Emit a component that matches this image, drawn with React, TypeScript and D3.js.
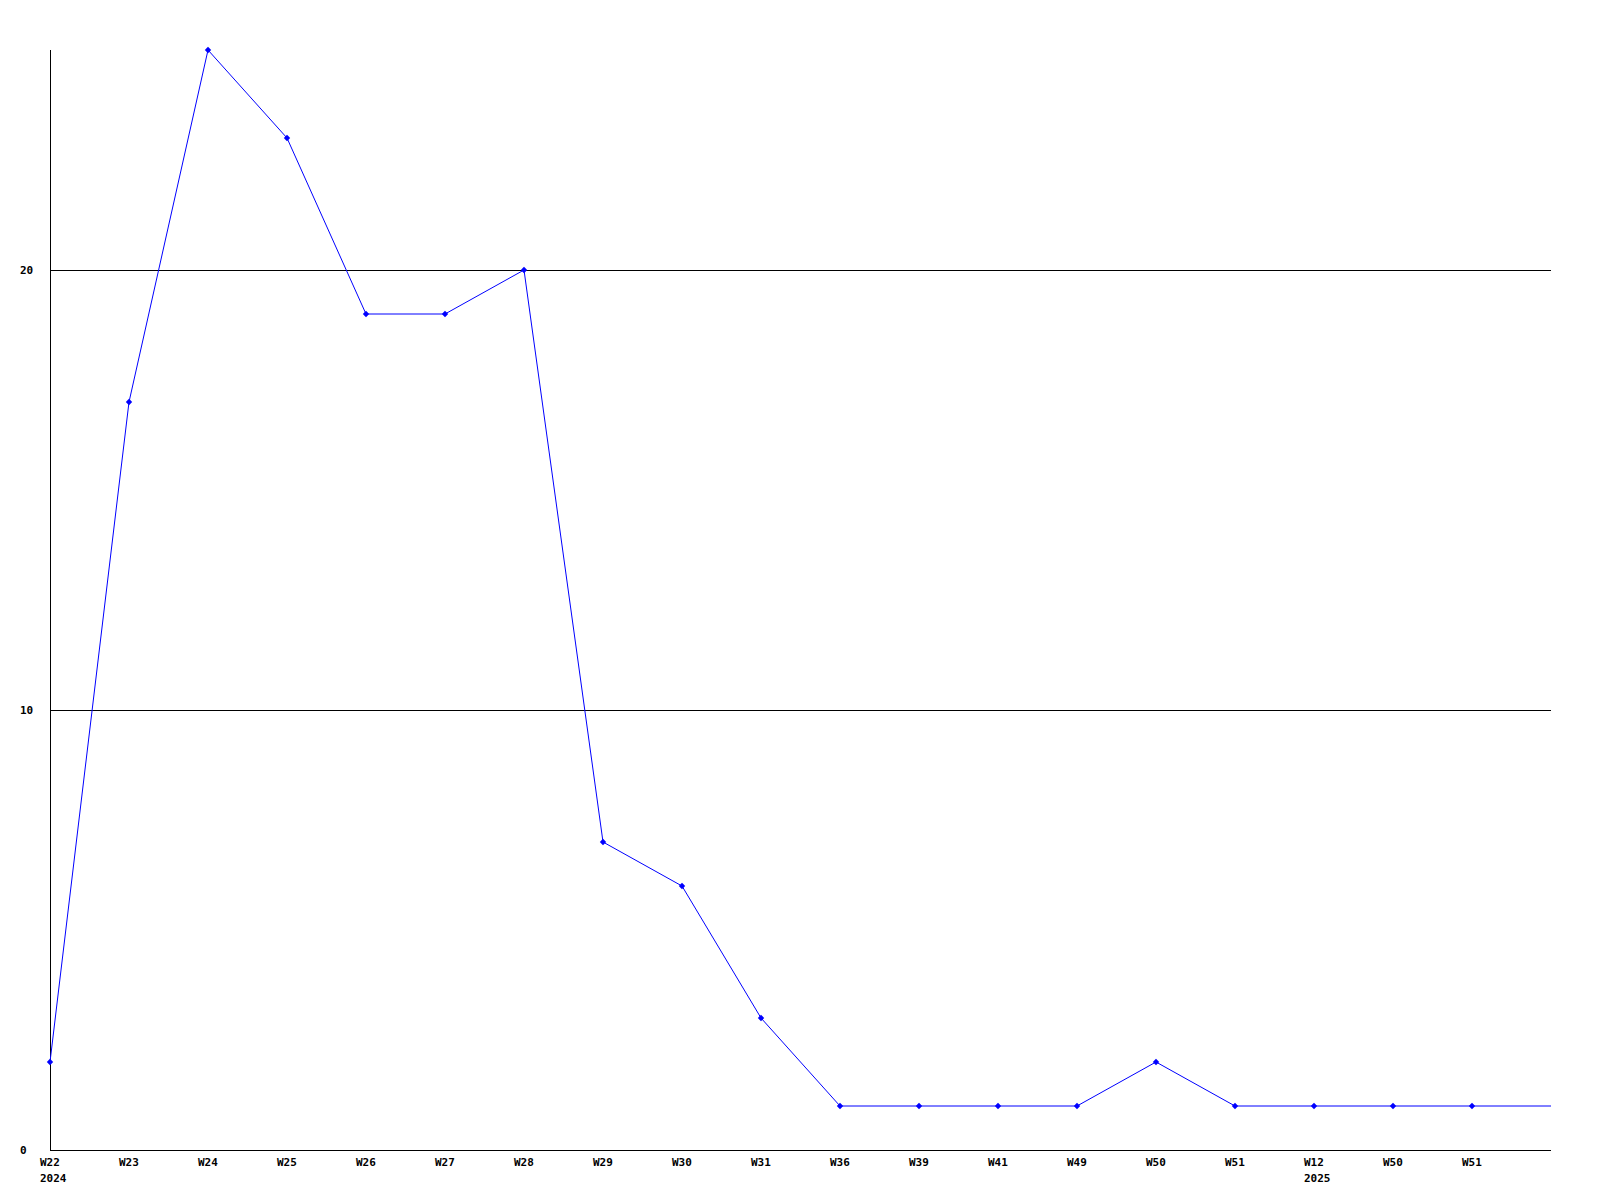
import React from "react";
import * as d3 from "d3";

const weekLabels = ["W22","W23","W24","W25","W26","W27","W28","W29","W30","W31","W36","W39","W41","W49","W50","W51","W12","W50","W51",""];
const yearLabels = ["2024","","","","","","","","","","","","","","","","2025","","",""];
const values = [2,17,25,23,19,19,20,7,6,3,1,1,1,1,2,1,1,1,1,1];
const yTicks = [0,10,20];

export default function App() {
  const W = 1600, H = 1200;
  const left = 50, right = 1551, top = 50, bottom = 1150;
  const x = d3.scaleLinear().domain([0, values.length - 1]).range([left, right]);
  const y = d3.scaleLinear().domain([0, 25]).range([bottom, top]);
  const line = d3.line<number>().x((_, i) => x(i)).y(d => y(d));
  const font = "'DejaVu Sans Mono', monospace";
  return (
    <svg width={W} height={H} style={{ position: "absolute", left: 0, top: 0, background: "#fff" }}>
      <rect width={W} height={H} fill="#fff" />
      {yTicks.filter(t => t > 0).map(t => (
        <line key={t} x1={left} x2={right} y1={Math.round(y(t)) + 0.5} y2={Math.round(y(t)) + 0.5} stroke="#000" strokeWidth={1} />
      ))}
      <line x1={left + 0.5} x2={left + 0.5} y1={top} y2={bottom} stroke="#000" />
      <line x1={left} x2={right} y1={bottom + 0.5} y2={bottom + 0.5} stroke="#000" />
      {yTicks.map(t => (
        <text key={t} x={20} y={y(t)} dy="0.35em" fontFamily={font} fontWeight="bold" fontSize={11} fill="#000">{t}</text>
      ))}
      {weekLabels.map((l, i) => (
        <g key={i}>
          <text x={x(i) - 10} y={1166} fontFamily={font} fontWeight="bold" fontSize={11} fill="#000">{l}</text>
          {yearLabels[i] && <text x={x(i) - 10} y={1182} fontFamily={font} fontWeight="bold" fontSize={11} fill="#000">{yearLabels[i]}</text>}
        </g>
      ))}
      <path d={line(values) || ""} fill="none" stroke="#0000ff" strokeWidth={1} />
      {values.slice(0, values.length - 1).map((v, i) => (
        <path key={i} transform={`translate(${x(i)},${y(v)})`} d="M-3.2,0L0,-3.2L3.2,0L0,3.2Z" fill="#0000ff" />
      ))}
    </svg>
  );
}
